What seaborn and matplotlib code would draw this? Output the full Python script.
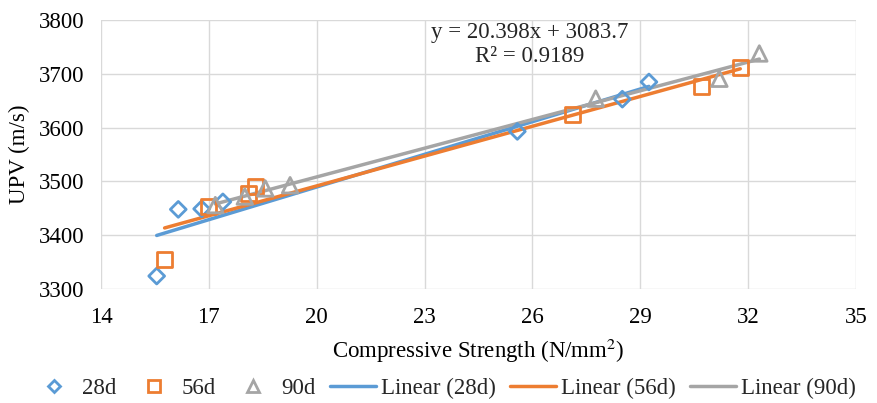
import matplotlib
matplotlib.use("Agg")
import matplotlib.pyplot as plt
import seaborn as sns
import numpy as np
import pandas as pd
from matplotlib.lines import Line2D

# ---- data ----
x28 = [15.55, 16.15, 16.80, 17.39, 25.58, 28.50, 29.24]
y28 = [3324, 3448, 3449, 3462, 3593, 3653, 3685]
x56 = [15.77, 16.99, 18.10, 18.29, 27.11, 30.69, 31.78]
y56 = [3354, 3453, 3478, 3491, 3624, 3676, 3712]
x90 = [17.18, 18.00, 18.57, 19.26, 27.76, 31.20, 32.31]
y90 = [3456, 3472, 3487, 3493, 3654, 3691, 3738]
series_names = ["28d", "56d", "90d"]
x_ticks = [14, 17, 20, 23, 26, 29, 32, 35]
y_ticks = [3300, 3400, 3500, 3600, 3700, 3800]
equation_text = "y = 20.398x + 3083.7\nR² = 0.9189"

colors = ["#5B9BD5", "#ED7D31", "#A5A5A5"]
markers = ["D", "s", "^"]
msizes = [65, 115, 125]

sns.set_theme(style="whitegrid")
plt.rcParams["font.family"] = ["Liberation Serif", "DejaVu Serif"]
plt.rcParams["mathtext.fontset"] = "stix"

FS = 16.5

fig = plt.figure(figsize=(8.78, 4.03), dpi=100)
ax = fig.add_axes([0.115, 0.283, 0.860, 0.667])

xs = [x28, x56, x90]
ys = [y28, y56, y90]
point_handles = []
line_handles = []
for name, xv, yv, c, m, s in zip(series_names, xs, ys, colors, markers, msizes):
    df = pd.DataFrame({"x": xv, "y": yv})
    sns.scatterplot(data=df, x="x", y="y", ax=ax, marker=m, s=s,
                    facecolor="none", edgecolor=c, linewidth=2, zorder=3)
    sns.regplot(data=df, x="x", y="y", ax=ax, scatter=False, ci=None,
                truncate=True, color=c, line_kws={"linewidth": 2.5, "zorder": 2})
    point_handles.append(Line2D([], [], linestyle="none", marker=m,
                                markersize=np.sqrt(s) * 0.8, markerfacecolor="none",
                                markeredgecolor=c, markeredgewidth=2))
    line_handles.append(Line2D([], [], color=c, linewidth=2.5))

ax.set_xlim(14, 35)
ax.set_ylim(3300, 3800)
ax.set_xticks(x_ticks)
ax.set_yticks(y_ticks)
ax.grid(True, color="#D9D9D9", linewidth=1)
for sp in ax.spines.values():
    sp.set_visible(False)
ax.tick_params(axis="both", labelsize=FS, colors="black", length=0)
ax.tick_params(axis="x", pad=13)
ax.tick_params(axis="y", pad=12)
ax.set_xlabel("Compressive Strength (N/mm$^2$)", fontsize=FS, labelpad=6, color="black")
ax.set_ylabel("UPV (m/s)", fontsize=FS, labelpad=6, color="black")

ax.text(0.568, 0.91, equation_text, transform=ax.transAxes, ha="center", va="center",
        fontsize=FS, multialignment="center", linespacing=1.15)

labels = series_names + [f"Linear ({n})" for n in series_names]
fig.legend(point_handles + line_handles, labels, loc="center", ncol=6,
           bbox_to_anchor=(0.505, 0.035), frameon=False, fontsize=FS,
           handlelength=2.0, columnspacing=0.65, handletextpad=0.2)

fig.savefig("out.png", dpi=100)
